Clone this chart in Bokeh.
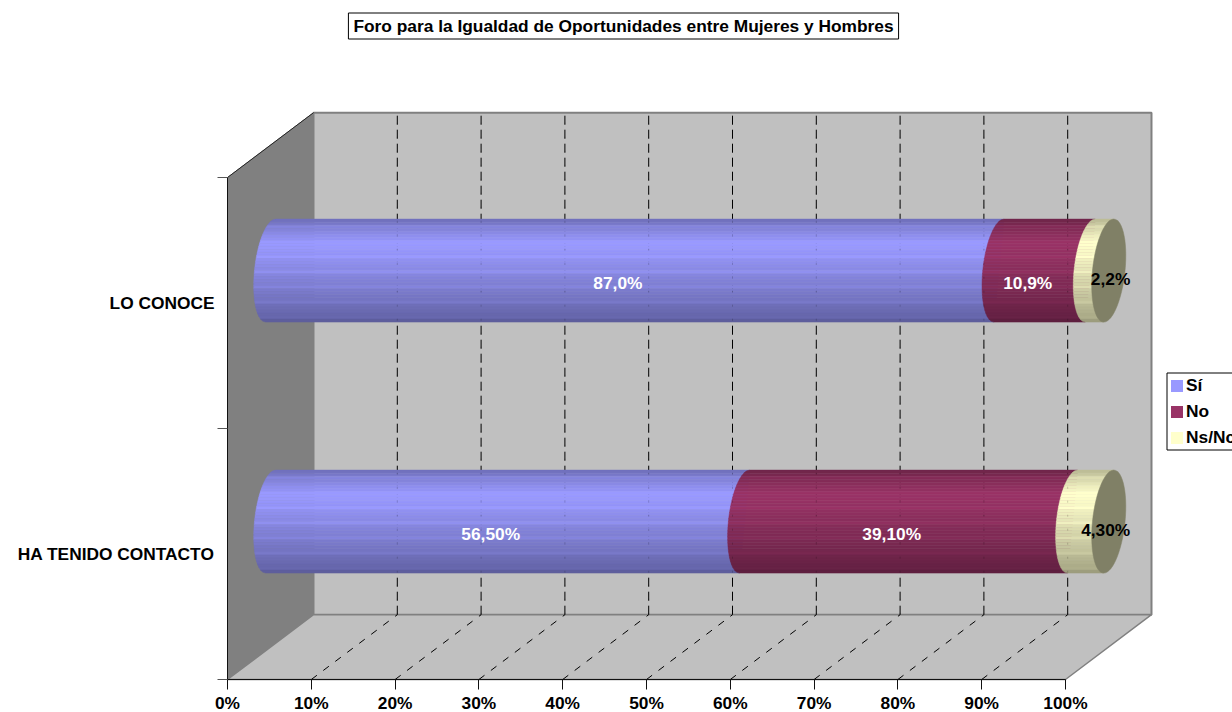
import math
from bokeh.plotting import figure
from bokeh.embed import file_html
from bokeh.resources import INLINE
from bokeh.models import (Range1d, FixedTicker, PrintfTickFormatter, LinearAxis, Label,
                          Legend, LegendItem, ColumnDataSource)
from bokeh.core.properties import value

TITLE = "Foro para la Igualdad de Oportunidades entre Mujeres y Hombres"
CATEGORIES = ["HA TENIDO CONTACTO", "LO CONOCE"]
SERIES = ["Sí", "No", "Ns/Nc"]
SI = [56.5, 87.0]
NO = [39.1, 10.9]
NS = [4.3, 2.2]
LABELS_SI = ["56,50%", "87,0%"]
LABELS_NO = ["39,10%", "10,9%"]
LABELS_NS = ["4,30%", "2,2%"]
COLORS = ["#9999FF", "#993366", "#FFFFCC"]
LABEL_COLORS = ["white", "white", "black"]
X_TICKS = [0, 10, 20, 30, 40, 50, 60, 70, 80, 90, 100]

# layout (page pixels) and their conversion to data units
X0, PX_PER_PCT = 227.0, 8.38
Y0, PX_PER_CAT = 679.0, 251.0
def xd(px): return (px - X0) / PX_PER_PCT
def yd(px): return (Y0 - px) / PX_PER_CAT
DX = 86.0 / PX_PER_PCT
DY = 64.8 / PX_PER_CAT
BAR_H = 51.5 / PX_PER_CAT
BAR_DX = 86.5 / PX_PER_PCT
ELL_A = 16.3 / PX_PER_PCT
ELL_S = 5.0 / PX_PER_PCT
FONT = "Liberation Sans"
FS = "17.33px"

p = figure(width=1232, height=712, output_backend="svg", toolbar_location=None,
           x_range=Range1d(xd(0), xd(1232)), y_range=Range1d(yd(712), yd(0)),
           min_border=0, outline_line_color=None, background_fill_color="white",
           border_fill_color="white")
p.grid.visible = False

# walls
p.patch([0, DX, DX, 0], [0, DY, 2 + DY, 2], fill_color="#808080", line_color="#808080")
p.patch([DX, DX + 100, DX + 100, DX], [DY, DY, 2 + DY, 2 + DY], fill_color="#C0C0C0",
        line_color="#808080", line_width=2)
p.patch([0, 100, 100 + DX, DX], [0, 0, DY, DY], fill_color="#C0C0C0", line_color="#808080",
        line_width=1.5)
p.segment([0], [2], [DX], [2 + DY], line_color="#222222", line_width=1)

# gridlines
gt = X_TICKS[1:-1]
p.segment([t + DX for t in gt], [DY] * 9, [t + DX for t in gt], [2 + DY] * 9,
          line_color="black", line_width=1, line_dash="9 5")
p.segment([t for t in gt], [0] * 9, [t + DX for t in gt], [DY] * 9,
          line_color="black", line_width=1, line_dash="7 8")

# shaded cylinders
STOPS = [(0.0, 0.72), (0.06, 0.80), (0.16, 0.93), (0.25, 1.0), (0.34, 0.97), (0.55, 0.87),
         (0.78, 0.76), (0.92, 0.68), (1.0, 0.60)]
NSTRIP = 34
def shade(f):
    for (a, sa), (b, sb) in zip(STOPS, STOPS[1:]):
        if f <= b:
            return sa + (sb - sa) * (f - a) / (b - a)
    return STOPS[-1][1]
def tint(col, k):
    r, g, b = (int(col[i:i + 2], 16) for i in (1, 3, 5))
    return "#%02x%02x%02x" % (round(r * k), round(g * k), round(b * k))
def edge(cx, t):
    return cx + ELL_S * t - ELL_A * math.sqrt(max(0, 1 - t * t))

all_xs, all_ys, all_c, cap_xs, cap_ys = [], [], [], [], []
label_x, label_y, label_t, label_c, label_ox, label_oy = [], [], [], [], [], []
for i in range(len(CATEGORIES)):
    vals = [SI[i], NO[i], NS[i]]
    tot = sum(vals)
    cum = 0.0
    cy = i + 0.5 + DY / 2
    for k, v in enumerate(vals):
        start = cum / tot * 100 + BAR_DX / 2
        cum += v
        end = cum / tot * 100 + BAR_DX / 2
        for s in range(NSTRIP):
            t0 = 1 - 2 * s / NSTRIP
            t1 = 1 - 2 * (s + 1) / NSTRIP
            ts = [t0 + (t1 - t0) * j / 4 for j in range(5)]
            xs = [edge(start, q) for q in ts] + [end + ELL_S * t1, end + ELL_S * t0]
            ys = [cy + BAR_H * q for q in ts] + [cy + BAR_H * t1, cy + BAR_H * t0]
            all_xs.append(xs)
            all_ys.append(ys)
            # faint lighter bands as in the reference
            bump = 1.06 if s % 5 == 2 else 1.0
            all_c.append(tint(COLORS[k], min(1.0, shade((s + 0.5) / NSTRIP) * bump)))
    th = [2 * math.pi * j / 60 for j in range(60)]
    cap_xs.append([end + ELL_A * math.cos(a) + ELL_S * math.sin(a) for a in th])
    cap_ys.append([cy + BAR_H * math.sin(a) for a in th])

p.patches(all_xs, all_ys, fill_color=all_c, line_color=all_c, line_width=0.5)
p.patches(cap_xs, cap_ys, fill_color="#808066", line_color="#808066", line_width=0.5)
p.segment([t + DX for t in X_TICKS[1:-1]], [DY] * 9, [t + DX for t in X_TICKS[1:-1]], [2 + DY] * 9,
          line_color="black", line_alpha=0.18, line_width=1, line_dash="2 12")

# data labels
for i in range(len(CATEGORIES)):
    vals = [SI[i], NO[i], NS[i]]
    texts = [LABELS_SI[i], LABELS_NO[i], LABELS_NS[i]]
    tot = sum(vals)
    cum = 0.0
    cy = i + 0.5 + DY / 2
    for k, v in enumerate(vals):
        mid = (cum + v / 2) / tot * 100 + BAR_DX / 2
        cum += v
        label_x.append(mid)
        label_y.append(cy)
        label_t.append(texts[k])
        label_c.append(LABEL_COLORS[k])
        label_ox.append(-17 if k < 2 else (15 if i == 0 else 11))
        label_oy.append(12 if k < 2 else 8)
p.text(label_x, label_y, text=label_t, text_color=label_c, x_offset=label_ox, y_offset=label_oy,
       text_align="center", text_baseline="middle", text_font=value(FONT),
       text_font_style="bold", text_font_size=FS)

# axes at the front corner
xa = p.xaxis[0]
xa.fixed_location = 0
xa.bounds = (0, 100)
xa.ticker = FixedTicker(ticks=X_TICKS)
xa.formatter = PrintfTickFormatter(format="%d%%")
xa.axis_line_color = "#111111"
xa.major_tick_line_color = "#111111"
xa.major_tick_in = 0
xa.major_tick_out = 10
xa.minor_tick_line_color = None
xa.major_label_standoff = 3
xa.major_label_text_font = FONT
xa.major_label_text_font_style = "bold"
xa.major_label_text_font_size = FS
xa.major_label_text_color = "black"

ya = p.yaxis[0]
ya.fixed_location = 0
ya.bounds = (0, 2)
ya.ticker = FixedTicker(ticks=[0, 1, 2])
ya.axis_line_color = "#111111"
ya.major_tick_line_color = "#555555"
ya.major_tick_in = 0
ya.major_tick_out = 10
ya.minor_tick_line_color = None
ya.major_label_text_color = None
ya.major_label_text_font_size = "1px"

ca = LinearAxis(fixed_location=0, ticker=FixedTicker(ticks=[0.5, 1.5]),
                major_label_overrides={0.5: CATEGORIES[0], 1.5: CATEGORIES[1]},
                axis_line_color=None, major_tick_line_color=None, minor_tick_line_color=None,
                major_tick_in=0, major_tick_out=0, major_label_standoff=13,
                major_label_text_font=FONT, major_label_text_font_style="bold",
                major_label_text_font_size=FS, major_label_text_color="black")
p.add_layout(ca, "left")

# title
p.add_layout(Label(x=xd(623), y=yd(25.5), text=TITLE, text_align="center", text_baseline="middle",
                   text_font=FONT, text_font_style="bold", text_font_size=FS, text_color="black",
                   border_line_color="black", border_line_width=1, background_fill_color="white",
                   padding=(5, 3)))

# legend box (the legend runs past the right edge of the picture, as in the reference)
p.quad(left=[xd(1166.5)], right=[xd(1260)], top=[yd(372.5)], bottom=[yd(449.5)],
       fill_color="white", line_color="black", line_width=1)
nan = float("nan")
src = ColumnDataSource(dict(l=[nan], r=[nan], t=[nan], b=[nan]))
items = []
for name, col in zip(SERIES, COLORS):
    r = p.quad(left="l", right="r", top="t", bottom="b", source=src, fill_color=col, line_color=None)
    items.append(LegendItem(label=name, renderers=[r]))
leg = Legend(items=items, location=(1169, 264), orientation="vertical", border_line_color=None,
             background_fill_alpha=0,
             padding=4, margin=0, spacing=5, glyph_width=15, glyph_height=15, label_standoff=2,
             label_height=18, label_text_font=FONT, label_text_font_style="bold",
             label_text_font_size=FS, label_text_color="black")
p.add_layout(leg)

open("out.html", "w").write(file_html(p, INLINE))
